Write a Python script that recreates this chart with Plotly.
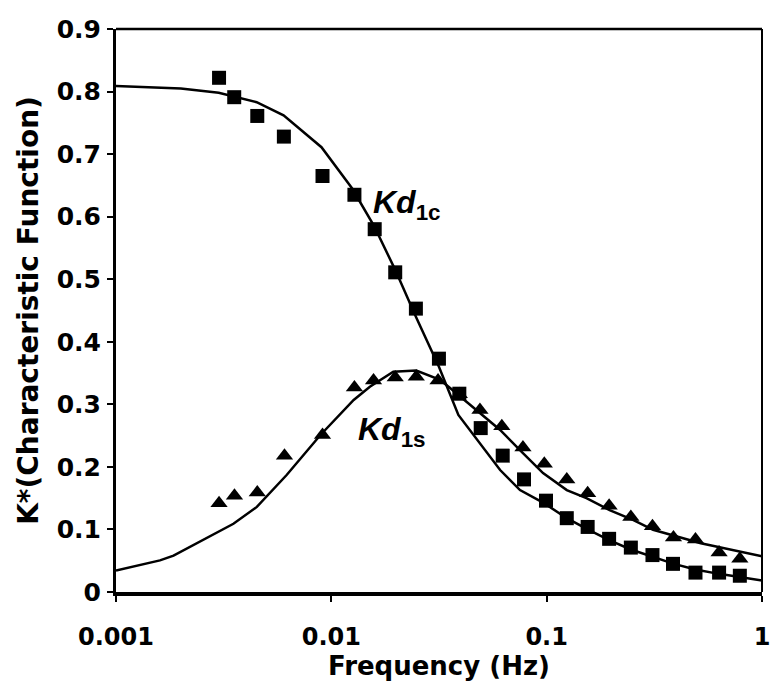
import plotly.graph_objects as go

# Measured points: Kd1c (squares)
freq_c = [0.00301, 0.00354, 0.00453, 0.00602, 0.0091, 0.0128, 0.0159, 0.0198, 0.0247, 0.0316,
          0.0393, 0.0494, 0.0625, 0.0785, 0.0993, 0.124, 0.155, 0.195, 0.246, 0.310,
          0.386, 0.491, 0.632, 0.789]
kd1c = [0.822, 0.791, 0.761, 0.728, 0.665, 0.635, 0.580, 0.511, 0.453, 0.373,
        0.317, 0.262, 0.218, 0.180, 0.146, 0.118, 0.104, 0.085, 0.071, 0.059,
        0.045, 0.031, 0.031, 0.026]

# Measured points: Kd1s (triangles)
freq_s = [0.00301, 0.00355, 0.00453, 0.00606, 0.0091, 0.0128, 0.0157, 0.0198, 0.0248, 0.0313,
          0.0393, 0.0490, 0.0619, 0.0776, 0.0975, 0.124, 0.155, 0.195, 0.246, 0.310,
          0.388, 0.491, 0.632, 0.789]
kd1s = [0.142, 0.154, 0.159, 0.218, 0.251, 0.327, 0.338, 0.343, 0.344, 0.338,
        0.316, 0.291, 0.265, 0.231, 0.205, 0.180, 0.158, 0.138, 0.120, 0.105,
        0.087, 0.084, 0.063, 0.053]

# Model curves
fit_freq_c = [0.001, 0.002, 0.003, 0.0045, 0.006, 0.009, 0.0125, 0.0158, 0.0198, 0.0247,
              0.0316, 0.0389, 0.0608, 0.0752, 0.0962, 0.124, 0.155, 0.195, 0.246, 0.31,
              0.39, 0.49, 0.63, 1.0]
fit_c = [0.809, 0.805, 0.798, 0.783, 0.762, 0.711, 0.645, 0.585, 0.515, 0.440,
         0.360, 0.283, 0.195, 0.163, 0.143, 0.118, 0.100, 0.083, 0.068, 0.056,
         0.045, 0.036, 0.029, 0.0185]

fit_freq_s = [0.001, 0.0016, 0.00185, 0.00351, 0.00451, 0.0062, 0.0089, 0.0127, 0.0151, 0.0194,
              0.0248, 0.032, 0.0356, 0.049, 0.0608, 0.0776, 0.0962, 0.124, 0.153, 0.196,
              0.253, 0.312, 0.40, 0.52, 1.0]
fit_s = [0.0345, 0.0505, 0.058, 0.109, 0.136, 0.187, 0.251, 0.307, 0.328, 0.352,
         0.354, 0.339, 0.326, 0.286, 0.259, 0.222, 0.190, 0.163, 0.150, 0.131,
         0.115, 0.0995, 0.089, 0.078, 0.057]

x_tickvals = [0.001, 0.01, 0.1, 1]
x_ticktext = ["0.001", "0.01", "0.1", "1"]
y_tickvals = [0, 0.1, 0.2, 0.3, 0.4, 0.5, 0.6, 0.7, 0.8, 0.9]
y_ticktext = ["0", "0.1", "0.2", "0.3", "0.4", "0.5", "0.6", "0.7", "0.8", "0.9"]

FONT = "DejaVu Sans"

fig = go.Figure()
fig.add_trace(go.Scatter(x=fit_freq_c, y=fit_c, mode="lines",
                         line=dict(color="black", width=2.5), showlegend=False))
fig.add_trace(go.Scatter(x=fit_freq_s, y=fit_s, mode="lines",
                         line=dict(color="black", width=2.5), showlegend=False))
fig.add_trace(go.Scatter(x=freq_s, y=kd1s, mode="markers",
                         marker=dict(symbol="triangle-up", size=15, color="black"),
                         showlegend=False))
fig.add_trace(go.Scatter(x=freq_c, y=kd1c, mode="markers",
                         marker=dict(symbol="square", size=14, color="black"),
                         showlegend=False))

fig.add_annotation(x=-1.648, y=0.619, xref="x", yref="y",
                   text="<b><i>Kd</i><sub>1c</sub></b>", showarrow=False,
                   font=dict(family="Liberation Sans", size=32, color="black"))
fig.add_annotation(x=-1.718, y=0.256, xref="x", yref="y",
                   text="<b><i>Kd</i><sub>1s</sub></b>", showarrow=False,
                   font=dict(family="Liberation Sans", size=32, color="black"))

# top and right frame lines
fig.add_shape(type="line", xref="paper", yref="paper", x0=0, x1=1, y0=1, y1=1,
              line=dict(color="black", width=2.5))
fig.add_shape(type="line", xref="paper", yref="paper", x0=1, x1=1, y0=0, y1=1,
              line=dict(color="black", width=2))

fig.update_xaxes(type="log", range=[-3, 0], tickvals=x_tickvals, ticktext=x_ticktext,
                 automargin=False,
                 showgrid=False, zeroline=False, showline=True, linecolor="black",
                 linewidth=4, ticks="outside", ticklen=6, tickwidth=2, tickcolor="black",
                 tickfont=dict(family=FONT, size=24, color="black", weight="bold"),
                 ticklabelstandoff=14,
                 title=dict(text="<b>Frequency (Hz)</b>", standoff=2,
                            font=dict(family=FONT, size=26, color="black")))
fig.update_yaxes(range=[0, 0.9], tickvals=y_tickvals, ticktext=y_ticktext,
                 automargin=False,
                 showgrid=False, zeroline=False, showline=True, linecolor="black",
                 linewidth=3, ticks="outside", ticklen=6, tickwidth=2, tickcolor="black",
                 tickfont=dict(family=FONT, size=25, color="black", weight="bold"),
                 ticklabelstandoff=1,
                 title=dict(text="<b>K*(Characteristic Function)</b>", standoff=10,
                            font=dict(family=FONT, size=28, color="black")))

fig.update_layout(width=773, height=695,
                  margin=dict(l=116, r=11, t=29, b=103),
                  plot_bgcolor="white", paper_bgcolor="white",
                  font=dict(family=FONT, color="black"))

fig.write_html("out.html", config={"displayModeBar": False},
               post_script="document.body.style.margin='0';document.body.style.overflow='hidden';")
